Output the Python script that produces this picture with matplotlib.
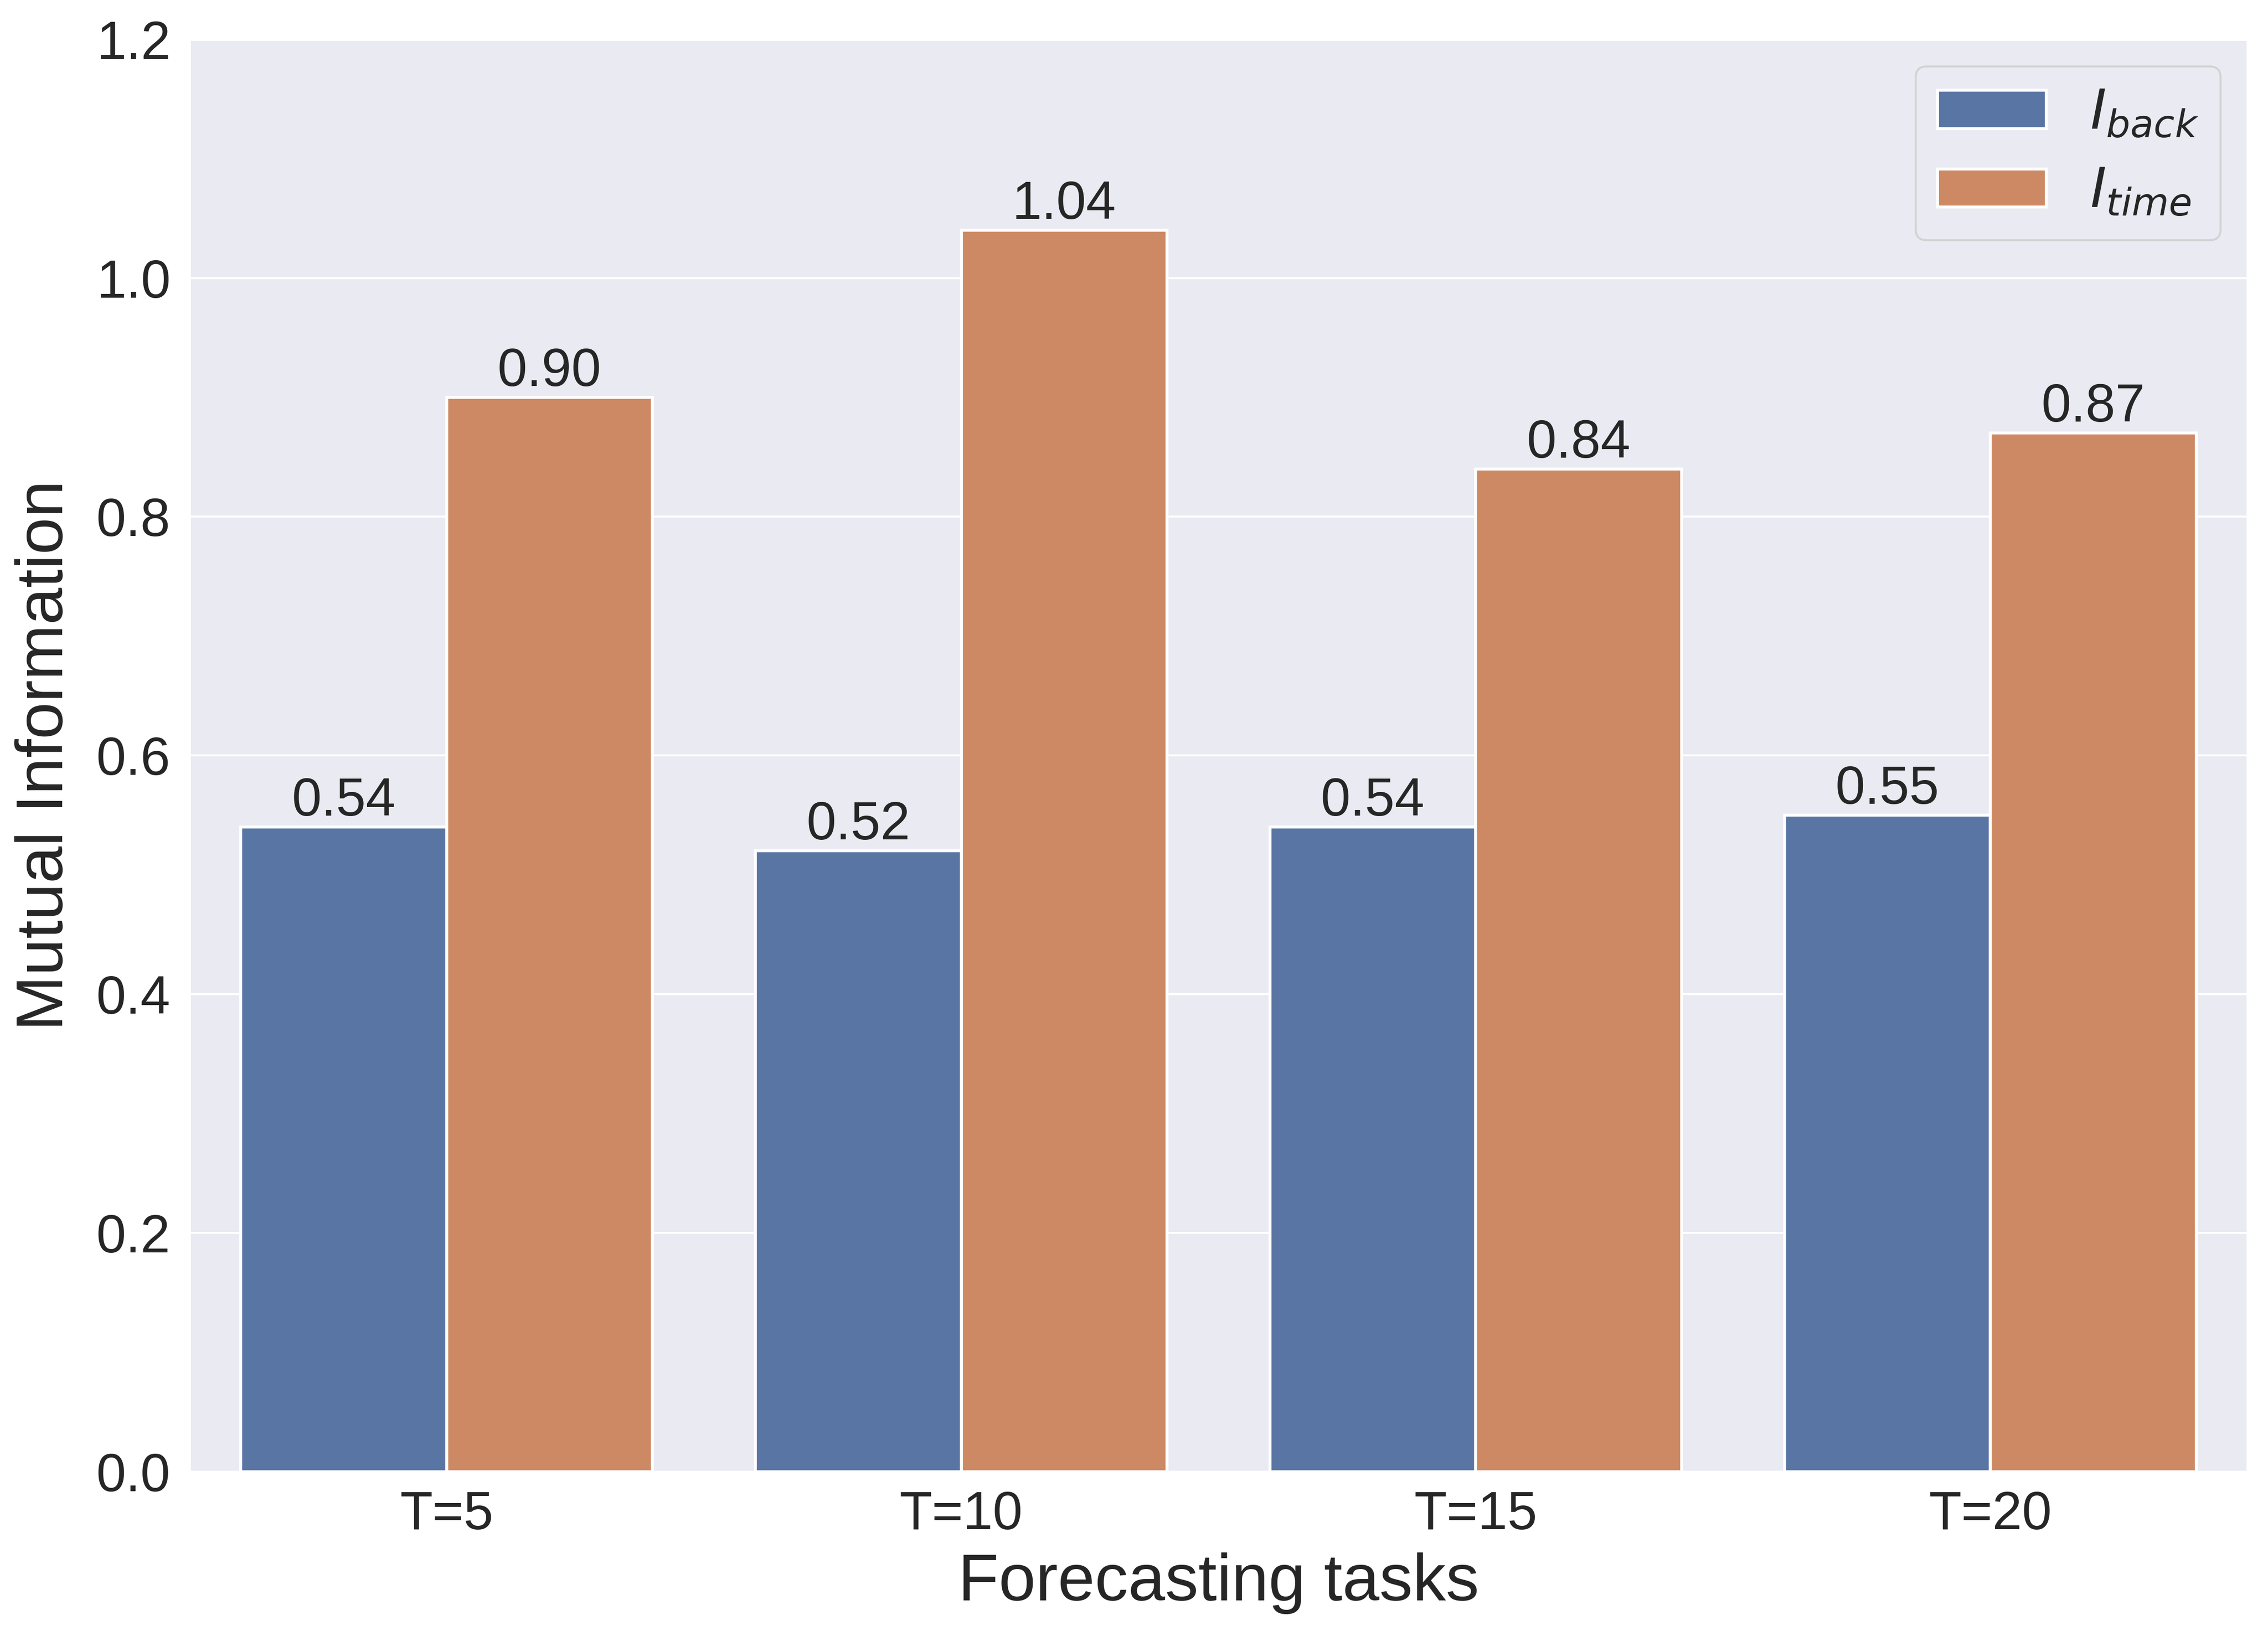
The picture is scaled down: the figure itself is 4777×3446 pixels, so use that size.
import numpy as np
import pandas as pd
import matplotlib
matplotlib.use('Agg')
import matplotlib.pyplot as plt
import seaborn as sns

# Chart values
tasks = ['T=5', 'T=10', 'T=15', 'T=20']
i_back = [0.54, 0.52, 0.54, 0.55]
i_time = [0.90, 1.04, 0.84, 0.87]
series_labels = [r'$I_{back}$', r'$I_{time}$']
y_ticks = [0.0, 0.2, 0.4, 0.6, 0.8, 1.0, 1.2]

sns.set_theme(style='darkgrid')
plt.rcParams['font.family'] = ['Liberation Sans', 'DejaVu Sans']

df = pd.DataFrame({
    'task': tasks * 2,
    'value': i_back + i_time,
    'series': [series_labels[0]] * len(tasks) + [series_labels[1]] * len(tasks),
})

fig = plt.figure(figsize=(4777 / 300, 3446 / 300), dpi=300)
ax = fig.add_axes([0.0835, 0.1005, 0.9075, 0.8755])

sns.barplot(data=df, x='task', y='value', hue='series', ax=ax,
            edgecolor='white', linewidth=1.5)

for container in ax.containers:
    ax.bar_label(container, fmt='%.2f', fontsize=27, color='.15', padding=0)

ax.set_ylim(0, 1.2)
ax.set_yticks(y_ticks)
ax.set_yticklabels([f'{t:.1f}' for t in y_ticks])
ax.tick_params(axis='both', labelsize=27, colors='.15')
ax.set_xlabel('Forecasting tasks', fontsize=33.6, color='.15', labelpad=6)
ax.set_ylabel('Mutual Information', fontsize=33.6, color='.15', labelpad=10)
ax.xaxis.grid(False)

ax.legend(loc='upper right', fontsize=27.5, title=None)

fig.savefig('out.png', dpi=300)
